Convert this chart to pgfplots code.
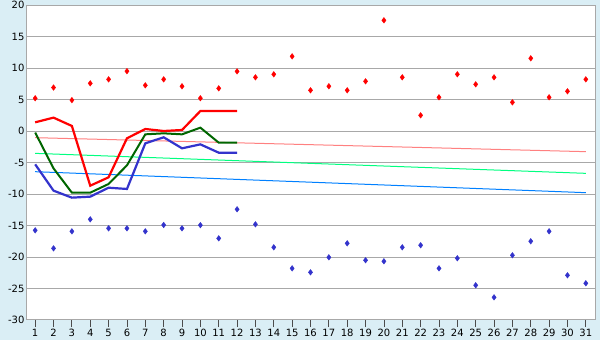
\documentclass[border=0pt]{standalone}
\usepackage{pgfplots}
\pgfplotsset{compat=1.18}
\usepackage{fontspec}
\setmainfont{DejaVu Sans}
\definecolor{bgblue}{HTML}{DAEEF5}
\definecolor{gridgray}{HTML}{A8A8A8}
\definecolor{tred}{HTML}{FF8080}
\definecolor{tgreen}{HTML}{00FF80}
\definecolor{tblue}{HTML}{0080FF}
\definecolor{dgreen}{HTML}{006600}
\definecolor{mblue}{HTML}{3333CC}
\begin{document}
\begin{tikzpicture}
\fill[bgblue] (-26pt,-20pt) rectangle (574pt,320pt);
\useasboundingbox (-26pt,-20pt) rectangle (574pt,320pt);
\begin{axis}[
  at={(0,0)}, anchor=south west,
  scale only axis, width=569pt, height=315pt,
  xmin=0.5, xmax=31.5, ymin=-30, ymax=20,
  xtick={1,...,31}, ytick={-30,-25,...,20},
  axis background/.style={fill=white},
  axis line style={gridgray, line width=1pt},
  ymajorgrids, grid style={gridgray, line width=1pt},
  x tick style={black!70, line width=0.8pt},
  xtick pos=bottom, ytick pos=left,
  x tick label style={yshift=1.5pt},
  xtick align=outside, major tick length=7pt,
  y tick style={draw=none},
  y tick label style={xshift=2pt},
  tick label style={font=\fontsize{10}{12}\selectfont, text=black},
  /pgf/number format/assume math mode=true,
  clip=false,
]
% trend lines
\addplot[tred, line width=1pt] coordinates {(1,-1.06) (31,-3.28)};
\addplot[tgreen, line width=1pt] coordinates {(1,-3.55) (31,-6.72)};
\addplot[tblue, line width=1pt] coordinates {(1,-6.46) (31,-9.79)};
% thick lines
\addplot[red, line width=2.2pt] coordinates {
(1,1.38) (2,2.12) (3,0.8) (4,-8.68) (5,-7.35) (6,-1.16) (7,0.32) (8,0.0) (9,0.16) (10,3.17) (11,3.17) (12,3.17)};
\addplot[dgreen, line width=2pt] coordinates {
(1,-0.25) (2,-5.93) (3,-9.79) (4,-9.79) (5,-8.41) (6,-5.45) (7,-0.53) (8,-0.37) (9,-0.53) (10,0.53) (11,-1.85) (12,-1.85)};
\addplot[mblue, line width=2.2pt] coordinates {
(1,-5.29) (2,-9.47) (3,-10.58) (4,-10.42) (5,-9.0) (6,-9.2) (7,-1.96) (8,-1.0) (9,-2.75) (10,-2.12) (11,-3.44) (12,-3.44)};
% markers
\addplot[only marks, mark=diamond*, mark size=2.8pt, red, mark options={fill=red}] coordinates {
(1,5.2) (2,6.9) (3,4.9) (4,7.57) (5,8.2) (6,9.5) (7,7.25) (8,8.2) (9,7.1) (10,5.2)
(11,6.77) (12,9.47) (13,8.52) (14,9.0) (15,11.85) (16,6.46) (17,7.1) (18,6.46) (19,7.88) (20,17.57)
(21,8.52) (22,2.49) (23,5.35) (24,9.0) (25,7.41) (26,8.52) (27,4.55) (28,11.54) (29,5.35) (30,6.3) (31,8.2)};
\addplot[only marks, mark=diamond*, mark size=2.8pt, mblue, mark options={fill=mblue}] coordinates {
(1,-15.77) (2,-18.63) (3,-15.93) (4,-14.02) (5,-15.45) (6,-15.45) (7,-15.93) (8,-14.92) (9,-15.45) (10,-14.95)
(11,-17.04) (12,-12.43) (13,-14.81) (14,-18.46) (15,-21.8) (16,-22.43) (17,-20.05) (18,-17.83) (19,-20.52) (20,-20.68)
(21,-18.46) (22,-18.14) (23,-21.8) (24,-20.2) (25,-24.49) (26,-26.4) (27,-19.73) (28,-17.5) (29,-15.92) (30,-22.9) (31,-24.17)};
\end{axis}
\end{tikzpicture}
\end{document}
